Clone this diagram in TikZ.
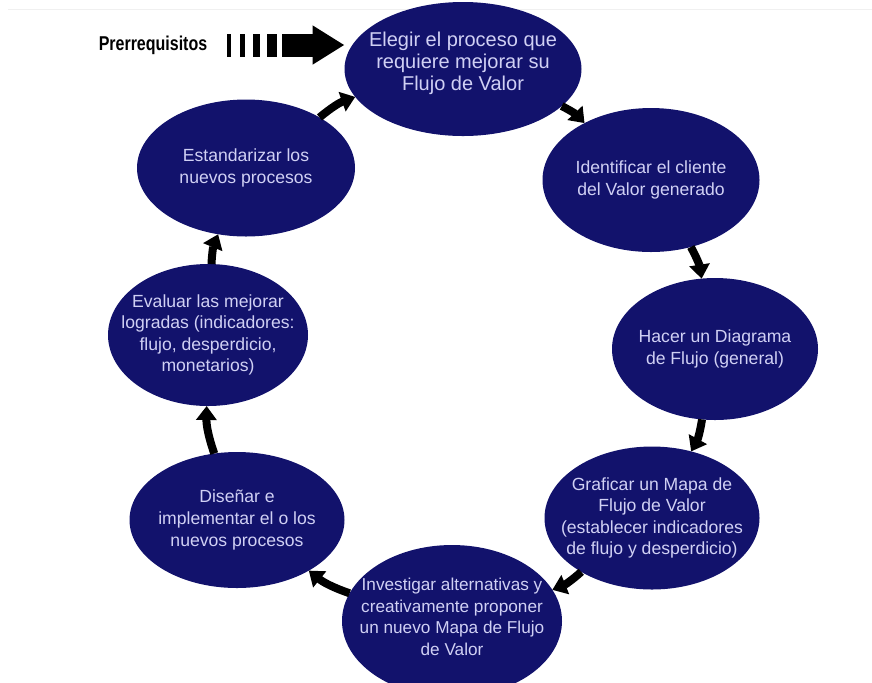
\documentclass[tikz,border=0pt]{standalone}
\usepackage{fontspec}
\setmainfont{Liberation Sans}
\newfontfamily\narrowfont[FakeStretch=0.8]{Liberation Sans}
\usetikzlibrary{shapes.geometric,positioning,arrows.meta}
\definecolor{navy}{RGB}{18,18,108}
\definecolor{lavender}{RGB}{208,208,244}

\begin{document}
\begin{tikzpicture}[x=0.5pt,y=-0.5pt]
\tikzstyle{main}=[ellipse, fill=navy, inner sep=0pt, outer sep=0pt]
\tikzstyle{txt}=[text=lavender, align=center, inner sep=0pt, font=\fontsize{8.8}{10.8}\selectfont]
\tikzstyle{connect}=[-{Triangle[width=10pt,length=7pt]}, line width=4pt, black]
\tikzstyle{bar}=[fill=black]
\useasboundingbox (0,0) rectangle (872,682);
\draw[black!6] (8,9) -- (872,9);
% the cycle
  \node[main, minimum width=118.5pt, minimum height=67pt, label={[txt, yshift=3pt, font=\fontsize{10}{11}\selectfont]center:{Elegir el proceso que\\requiere mejorar su\\Flujo de Valor}}] (e1) at (463,69) {};
  \node[main, minimum width=108.5pt, minimum height=72pt, label={[txt]center:{Identificar el cliente\\del Valor generado}}] (e2) at (651,180) {};
  \node[main, minimum width=103pt, minimum height=71pt, label={[txt]center:{Hacer un Diagrama\\de Flujo (general)}}] (e3) at (715,349) {};
  \node[main, minimum width=107.5pt, minimum height=71.5pt, label={[txt]center:{Graficar un Mapa de\\Flujo de Valor\\(establecer indicadores\\de flujo y desperdicio)}}] (e4) at (652,518) {};
  \node[main, minimum width=110pt, minimum height=76pt, label={[txt, yshift=2pt, font=\fontsize{8.6}{10.8}\selectfont]center:{Investigar alternativas y\\creativamente proponer\\un nuevo Mapa de Flujo\\de Valor}}] (e5) at (452,621) {};
  \node[main, minimum width=107.5pt, minimum height=68pt, label={[txt]center:{Diseñar e\\implementar el o los\\nuevos procesos}}] (e6) at (237,520) {};
  \node[main, minimum width=100pt, minimum height=71pt, label={[txt]center:{Evaluar las mejorar\\logradas (indicadores:\\flujo, desperdicio,\\monetarios)}}] (e7) at (208,335) {};
  \node[main, minimum width=109pt, minimum height=68.5pt, label={[txt]center:{Estandarizar los\\nuevos procesos}}] (e8) at (246,168) {};
\path[connect] (e1) edge[bend left=10] (e2)
           (e2) edge[bend left=10] (e3)
           (e3) edge[bend left=10] (e4)
           (e4) edge[bend left=10] (e5)
           (e5) edge[bend left=10] (e6)
           (e6) edge[bend left=10] (e7)
           (e7) edge[bend left=10] (e8)
           (e8) edge[bend left=10] (e1)
           ;
% prerequisites
  \node[font=\narrowfont\bfseries\fontsize{10}{12}\selectfont, inner sep=0pt] (prq) at (153,45) {Prerrequisitos};
  \foreach \x/\w in {227/4,240/5,253/7,267/10}
    \fill[bar] (\x,33.5) rectangle ++(\w,23);
  \coordinate (prqbody) at (282,45);
  \draw[line width=11.5pt, -{Triangle[width=18.5pt,length=16pt]}] (prqbody) -- (prqbody -| e1.west);
\end{tikzpicture}
\end{document}
